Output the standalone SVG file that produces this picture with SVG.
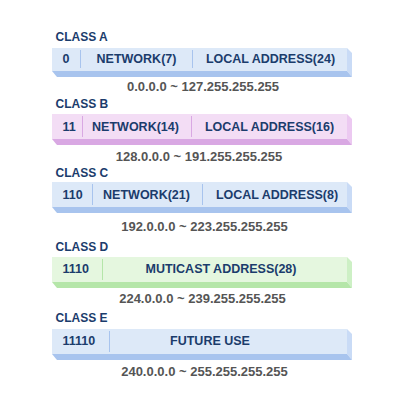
<svg xmlns="http://www.w3.org/2000/svg" width="415" height="404" viewBox="0 0 415 404">
<style>
.lbl{font-family:"Liberation Sans",Arial,sans-serif;font-weight:bold;font-size:12px;fill:#1b3c6c}
.in{font-family:"Liberation Sans",Arial,sans-serif;font-weight:bold;font-size:12.5px;fill:#1b3c6c}
.rng{font-family:"Liberation Sans",Arial,sans-serif;font-weight:bold;font-size:13px;fill:#555555;text-anchor:middle}
.m{text-anchor:middle}
.bf{fill:#dde9f8}.bb{fill:#a8c4ee}.br{fill:#c9dbf6}.bd{stroke:#a8c4ee;stroke-width:1}
.pf{fill:#f3ddf5}.pb{fill:#d9a8e3}.pr{fill:#ecc9f1}.pd{stroke:#d9a8e3;stroke-width:1}
.gf{fill:#e5f7df}.gb{fill:#b5e6a9}.gr{fill:#cdf0c5}.gd{stroke:#b5e6a9;stroke-width:1}
</style>
<rect width="415" height="404" fill="#ffffff"/>
<g id="classA">
<text class="lbl" x="55.5" y="41">CLASS A</text>
<rect class="bf" x="52" y="48" width="295" height="23"/>
<polygon class="br" points="347,48 352,53 352,77 347,71"/>
<polygon class="bb" points="52,71 347,71 352,77 57,77"/>
<line class="bd" x1="80.5" y1="50" x2="80.5" y2="68"/>
<line class="bd" x1="192.5" y1="50" x2="192.5" y2="68"/>
<text class="in" x="62.5" y="63">0</text>
<text class="in m" x="136.5" y="63">NETWORK(7)</text>
<text class="in m" x="270.5" y="63">LOCAL ADDRESS(24)</text>
<text class="rng" x="203" y="91">0.0.0.0 ~ 127.255.255.255</text>
</g>
<g id="classB">
<text class="lbl" x="55.5" y="107.5">CLASS B</text>
<rect class="pf" x="52" y="114" width="295" height="25"/>
<polygon class="pr" points="347,114 352,119 352,145 347,139"/>
<polygon class="pb" points="52,139 347,139 352,145 57,145"/>
<line class="pd" x1="82.5" y1="116" x2="82.5" y2="137"/>
<line class="pd" x1="191.5" y1="116" x2="191.5" y2="137"/>
<text class="in" x="62.5" y="131">11</text>
<text class="in m" x="135.5" y="131">NETWORK(14)</text>
<text class="in m" x="269.5" y="131">LOCAL ADDRESS(16)</text>
<text class="rng" x="199" y="161">128.0.0.0 ~ 191.255.255.255</text>
</g>
<g id="classC">
<text class="lbl" x="55.5" y="176.7">CLASS C</text>
<rect class="bf" x="52" y="182" width="295" height="25"/>
<polygon class="br" points="347,182 352,187 352,213 347,207"/>
<polygon class="bb" points="52,207 347,207 352,213 57,213"/>
<line class="bd" x1="92.5" y1="184" x2="92.5" y2="205"/>
<line class="bd" x1="202.5" y1="184" x2="202.5" y2="205"/>
<text class="in" x="62.5" y="199">110</text>
<text class="in m" x="146.5" y="199">NETWORK(21)</text>
<text class="in m" x="277" y="199">LOCAL ADDRESS(8)</text>
<text class="rng" x="204.5" y="231">192.0.0.0 ~ 223.255.255.255</text>
</g>
<g id="classD">
<text class="lbl" x="55.5" y="250.7">CLASS D</text>
<rect class="gf" x="52" y="257" width="295" height="25"/>
<polygon class="gr" points="347,257 352,262 352,288 347,282"/>
<polygon class="gb" points="52,282 347,282 352,288 57,288"/>
<line class="gd" x1="102.5" y1="259" x2="102.5" y2="280"/>
<text class="in" x="62.5" y="273">1110</text>
<text class="in m" x="221" y="273">MUTICAST ADDRESS(28)</text>
<text class="rng" x="202.5" y="303">224.0.0.0 ~ 239.255.255.255</text>
</g>
<g id="classE">
<text class="lbl" x="55.5" y="321.7">CLASS E</text>
<rect class="bf" x="52" y="329" width="295" height="25"/>
<polygon class="br" points="347,329 352,334 352,360 347,354"/>
<polygon class="bb" points="52,354 347,354 352,360 57,360"/>
<line class="bd" x1="109.5" y1="331" x2="109.5" y2="352"/>
<text class="in" x="62.5" y="345">11110</text>
<text class="in m" x="210" y="345">FUTURE USE</text>
<text class="rng" x="204.5" y="376">240.0.0.0 ~ 255.255.255.255</text>
</g>
<g id="connectors"></g>
</svg>
